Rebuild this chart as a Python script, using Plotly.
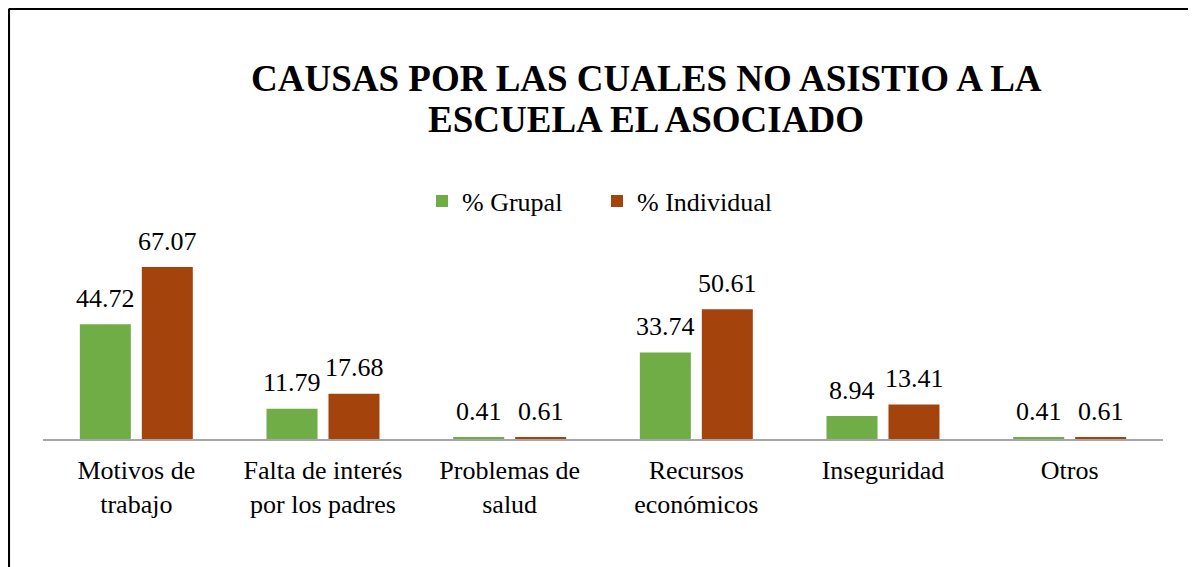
import plotly.graph_objects as go

# data
categorias = ["Motivos de<br>trabajo", "Falta de interés<br>por los padres", "Problemas de<br>salud",
              "Recursos<br>económicos", "Inseguridad", "Otros"]
grupal = [44.72, 11.79, 0.41, 33.74, 8.94, 0.41]
individual = [67.07, 17.68, 0.61, 50.61, 13.41, 0.61]
titulo = ["CAUSAS POR LAS CUALES NO ASISTIO A LA", "ESCUELA EL ASOCIADO"]

FONT = "Liberation Serif"
OFF = 8  # page body margin
W, H = 1196 - OFF, 567 - OFF
ML, MR, MT, MB = 43 - OFF, 33, 230 - OFF, 128
PW, PH = W - ML - MR, H - MT - MB

fig = go.Figure()
fig.add_trace(go.Bar(name="% Grupal", x=categorias, y=grupal,
                     marker=dict(color="#70AD47", line=dict(width=0))))
fig.add_trace(go.Bar(name="% Individual", x=categorias, y=individual,
                     marker=dict(color="#A4440C", line=dict(width=0))))


# screen pixel -> paper coords
def px_x(p):
    return (p - OFF - ML) / PW


def px_y(p):
    return (H + OFF - MB - p) / PH


# value labels above the bars
annotations = []
for vals, dx in ((grupal, -31), (individual, 31)):
    for c, v in zip(categorias, vals):
        annotations.append(dict(x=c, y=v, text=f"{v:.2f}", showarrow=False,
                                xshift=dx, yshift=26, yanchor="middle",
                                font=dict(family=FONT, size=26, color="black")))

# title, one annotation per line for tighter line spacing
for linea, yc in zip(titulo, (78, 120)):
    annotations.append(dict(xref="paper", yref="paper", x=px_x(646), y=px_y(yc),
                            text=f"<b>{linea}</b>", showarrow=False,
                            xanchor="center", yanchor="middle",
                            font=dict(family=FONT, size=37, color="black")))

# frame (left and top edge)
shapes = [
    dict(type="line", xref="paper", yref="paper", x0=px_x(8.8), x1=px_x(1200),
         y0=px_y(8.8), y1=px_y(8.8), line=dict(color="black", width=2.5)),
    dict(type="line", xref="paper", yref="paper", x0=px_x(8.8), x1=px_x(8.8),
         y0=px_y(8.8), y1=px_y(600), line=dict(color="black", width=2.5)),
]

fig.update_layout(
    width=W, height=H,
    margin=dict(l=ML, r=MR, t=MT, b=MB),
    paper_bgcolor="white", plot_bgcolor="white",
    font=dict(family=FONT, size=26, color="black"),
    legend=dict(orientation="h", x=px_x(422), xanchor="left", y=px_y(201), yanchor="middle",
                font=dict(family=FONT, size=26), itemwidth=30, entrywidth=130,
                traceorder="normal"),
    barmode="group", bargap=0.336, bargroupgap=0.177,
    shapes=shapes, annotations=annotations,
)
fig.update_xaxes(showline=True, linecolor="#A6A6A6", linewidth=2, ticks="",
                 showgrid=False, tickfont=dict(family=FONT, size=26), ticklabelstandoff=7)
fig.update_yaxes(visible=False, range=[0, 81.5], showgrid=False, zeroline=False)

fig.write_html("out.html")
